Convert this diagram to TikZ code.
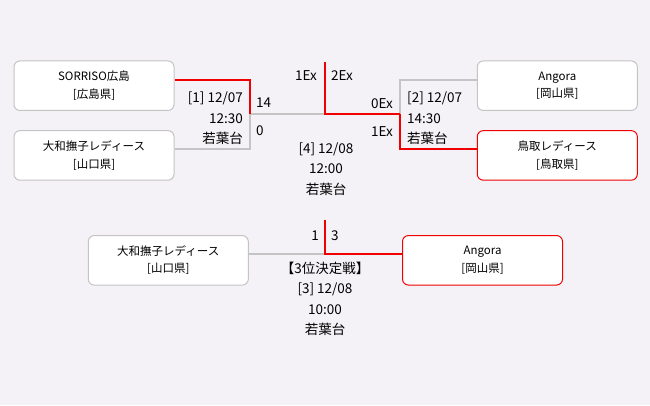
\documentclass[tikz,border=0pt]{standalone}
\usepackage{fontspec}
\setmainfont{Noto Sans CJK JP}
\usetikzlibrary{positioning}
\definecolor{bg}{RGB}{244,242,246}
\definecolor{win}{RGB}{240,0,0}
\definecolor{lose}{RGB}{196,196,196}

\begin{document}
\begin{tikzpicture}[x=1pt, y=-1pt,
  team/.style={draw=lose, fill=white, line width=1pt, rounded corners=6pt,
    minimum width=160pt, minimum height=49.5pt, align=center,
    font=\fontsize{11.5}{17.5}\selectfont},
  team 4/.style={draw=win},
  team 6/.style={draw=win},
  lost/.style={draw=lose, line width=2pt},
  won/.style={draw=win, line width=2pt},
  info/.style={inner sep=0pt, font=\fontsize{13.5}{20.5}\selectfont},
  score/.style={inner sep=0pt, font=\fontsize{13.5}{16}\selectfont}]

\fill [bg] (0,0) rectangle (650,405);

% Create the team boxes
\foreach \t/\p/\x/\y [count=\i] in {SORRISO広島/広島県/94/85.7,
    大和撫子レディース/山口県/94/155.4, Angora/岡山県/557.3/85.7,
    鳥取レディース/鳥取県/557.3/155.4, 大和撫子レディース/山口県/168.3/260.3,
    Angora/岡山県/482.5/260.3}
  \node [team, team \i/.try] (team-\i) at (\x,\y) {\t\\{[\p]}};

% Create the junction points
\coordinate (match-1) at (250,114);
\coordinate (match-2) at (400,114);
\coordinate (final) at (325,114);
\coordinate (champion) at (325,62);
\coordinate (third) at (325,254.3);
\coordinate (bronze) at (325,220);

% Connect the losing teams
\draw [lost] ([yshift=6pt]team-2.east) -| (match-1);
\draw [lost] (match-1) -- (final);
\draw [lost] ([yshift=6pt]team-3.west) -| (match-2);
\draw [lost] ([yshift=6pt]team-5.east) -- (third);

% Connect the winning teams
\draw [won] ([yshift=6pt]team-1.east) -| (match-1);
\draw [won] ([yshift=6pt]team-4.west) -| (match-2);
\draw [won] (champion) |- (match-2);
\draw [won] (bronze) |- ([yshift=6pt]team-6.west);

% Label the matches
\node [info, align=right, anchor=east] (info-1) at (243,118.3)
  {[1] 12/07\\12:30\\若葉台};
\node [info, align=left, anchor=west] (info-2) at (407,118.3)
  {[2] 12/07\\14:30\\若葉台};
\node [info, align=center] (info-4) at (326,169)
  {[4] 12/08\\12:00\\若葉台};
\node [info, align=center] (info-3) at (325,299)
  {【3位決定戦】\\{[3] 12/08}\\10:00\\若葉台};

% Label the scores
\node [score, anchor=west] (score-1a) at (256,102.7) {14};
\node [score, anchor=west] (score-1b) at (256,130.7) {0};
\node [score, anchor=east] (score-2a) at (393,103.3) {0Ex};
\node [score, anchor=east] (score-2b) at (393,131.7) {1Ex};
\node [score, anchor=east] (score-4a) at (317,75.7) {1Ex};
\node [score, anchor=west] (score-4b) at (331,75.7) {2Ex};
\node [score, anchor=east] (score-3a) at (319,236) {1};
\node [score, anchor=west] (score-3b) at (331,236) {3};

\end{tikzpicture}
\end{document}
